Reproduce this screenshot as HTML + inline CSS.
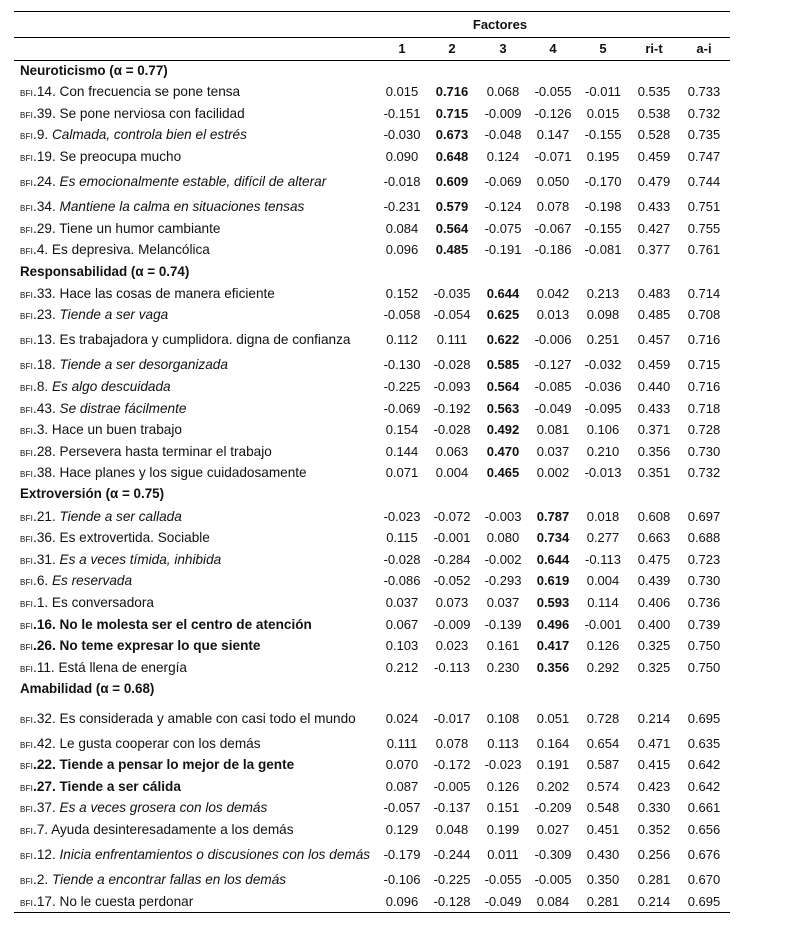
<!DOCTYPE html>
<html><head><meta charset="utf-8"><style>
body{margin:0;width:785px;height:925px;background:#fff;position:relative;font-family:"Liberation Sans","DejaVu Sans",sans-serif;font-size:13px;color:#111;overflow:hidden}
.l{position:absolute;left:14px;width:716px;height:0;border-top:1.3px solid #000}
.r{position:absolute;left:0;width:785px;height:16px;line-height:16px}
.lab{position:absolute;left:20px;white-space:nowrap;font-size:13.6px}
.h{position:absolute;left:20px;font-weight:bold;white-space:nowrap;font-size:13.4px}
.s{font-size:8px;letter-spacing:0.2px}
.n{position:absolute;width:56px;text-align:center}
.c1{left:374px}.c2{left:424px}.c3{left:475px}.c4{left:525px}.c5{left:575px}.c6{left:626px}.c7{left:676px}
b{font-weight:bold}
</style></head><body>
<div class="l" style="top:11px"></div>
<div class="l" style="top:37px;left:14px"></div>
<div class="l" style="top:60px"></div>
<div class="l" style="top:912px"></div>
<div class="r" style="top:17px"><span class="n" style="left:440px;width:120px;font-weight:bold">Factores</span></div>
<div class="r" style="top:41px;font-weight:bold"><span class="n c1">1</span><span class="n c2">2</span><span class="n c3">3</span><span class="n c4">4</span><span class="n c5">5</span><span class="n c6">ri-t</span><span class="n c7">a-i</span></div>
<div id="rows"></div>
<script>
var R=[
[71,"H","Neuroticismo (α = 0.77)"],
[92,"","14. Con frecuencia se pone tensa","0.015","0.716","0.068","-0.055","-0.011","0.535","0.733",2],
[114,"","39. Se pone nerviosa con facilidad","-0.151","0.715","-0.009","-0.126","0.015","0.538","0.732",2],
[135,"i","9. |Calmada, controla bien el estrés","-0.030","0.673","-0.048","0.147","-0.155","0.528","0.735",2],
[157,"","19. Se preocupa mucho","0.090","0.648","0.124","-0.071","0.195","0.459","0.747",2],
[182,"i","24. |Es emocionalmente estable, difícil de alterar","-0.018","0.609","-0.069","0.050","-0.170","0.479","0.744",2],
[207,"i","34. |Mantiene la calma en situaciones tensas","-0.231","0.579","-0.124","0.078","-0.198","0.433","0.751",2],
[229,"","29. Tiene un humor cambiante","0.084","0.564","-0.075","-0.067","-0.155","0.427","0.755",2],
[250,"","4. Es depresiva. Melancólica","0.096","0.485","-0.191","-0.186","-0.081","0.377","0.761",2],
[272,"H","Responsabilidad (α = 0.74)"],
[294,"","33. Hace las cosas de manera eficiente","0.152","-0.035","0.644","0.042","0.213","0.483","0.714",3],
[315,"i","23. |Tiende a ser vaga","-0.058","-0.054","0.625","0.013","0.098","0.485","0.708",3],
[340,"","13. Es trabajadora y cumplidora. digna de confianza","0.112","0.111","0.622","-0.006","0.251","0.457","0.716",3],
[365,"i","18. |Tiende a ser desorganizada","-0.130","-0.028","0.585","-0.127","-0.032","0.459","0.715",3],
[387,"i","8. |Es algo descuidada","-0.225","-0.093","0.564","-0.085","-0.036","0.440","0.716",3],
[409,"i","43. |Se distrae fácilmente","-0.069","-0.192","0.563","-0.049","-0.095","0.433","0.718",3],
[430,"","3. Hace un buen trabajo","0.154","-0.028","0.492","0.081","0.106","0.371","0.728",3],
[452,"","28. Persevera hasta terminar el trabajo","0.144","0.063","0.470","0.037","0.210","0.356","0.730",3],
[473,"","38. Hace planes y los sigue cuidadosamente","0.071","0.004","0.465","0.002","-0.013","0.351","0.732",3],
[494,"H","Extroversión (α = 0.75)"],
[517,"i","21. |Tiende a ser callada","-0.023","-0.072","-0.003","0.787","0.018","0.608","0.697",4],
[538,"","36. Es extrovertida. Sociable","0.115","-0.001","0.080","0.734","0.277","0.663","0.688",4],
[560,"i","31. |Es a veces tímida, inhibida","-0.028","-0.284","-0.002","0.644","-0.113","0.475","0.723",4],
[581,"i","6. |Es reservada","-0.086","-0.052","-0.293","0.619","0.004","0.439","0.730",4],
[603,"","1. Es conversadora","0.037","0.073","0.037","0.593","0.114","0.406","0.736",4],
[625,"b","16. No le molesta ser el centro de atención","0.067","-0.009","-0.139","0.496","-0.001","0.400","0.739",4],
[646,"b","26. No teme expresar lo que siente","0.103","0.023","0.161","0.417","0.126","0.325","0.750",4],
[668,"","11. Está llena de energía","0.212","-0.113","0.230","0.356","0.292","0.325","0.750",4],
[689,"H","Amabilidad (α = 0.68)"],
[719,"","32. Es considerada y amable con casi todo el mundo","0.024","-0.017","0.108","0.051","0.728","0.214","0.695",0],
[744,"","42. Le gusta cooperar con los demás","0.111","0.078","0.113","0.164","0.654","0.471","0.635",0],
[765,"b","22. Tiende a pensar lo mejor de la gente","0.070","-0.172","-0.023","0.191","0.587","0.415","0.642",0],
[787,"b","27. Tiende a ser cálida","0.087","-0.005","0.126","0.202","0.574","0.423","0.642",0],
[808,"i","37. |Es a veces grosera con los demás","-0.057","-0.137","0.151","-0.209","0.548","0.330","0.661",0],
[830,"","7. Ayuda desinteresadamente a los demás","0.129","0.048","0.199","0.027","0.451","0.352","0.656",0],
[855,"i","12. |Inicia enfrentamientos o discusiones con los demás","-0.179","-0.244","0.011","-0.309","0.430","0.256","0.676",0],
[880,"i","2. |Tiende a encontrar fallas en los demás","-0.106","-0.225","-0.055","-0.005","0.350","0.281","0.670",0],
[902,"","17. No le cuesta perdonar","0.096","-0.128","-0.049","0.084","0.281","0.214","0.695",0]
];
var h="";
R.forEach(function(r){
 var t=r[0]-8;
 if(r[1]=="H"){h+='<div class="r" style="top:'+t+'px"><span class="h">'+r[2]+'</span></div>';return;}
 var txt=r[2],lab;
 if(r[1]=="i"){var p=txt.split("|");lab=p[0]+"<i>"+p[1]+"</i>";}
 else if(r[1]=="b"){lab="<b>"+txt+"</b>";}
 else lab=txt;
 var s='<div class="r" style="top:'+t+'px"><span class="lab"><span class="s">BFI</span>'+(r[1]=="b"?"<b>.</b>":".")+lab+'</span>';
 for(var k=1;k<=7;k++){var v=r[2+k];if(k==r[10])v="<b>"+v+"</b>";s+='<span class="n c'+k+'">'+v+'</span>';}
 h+=s+'</div>';
});
document.getElementById("rows").innerHTML=h;
</script>
</body></html>
